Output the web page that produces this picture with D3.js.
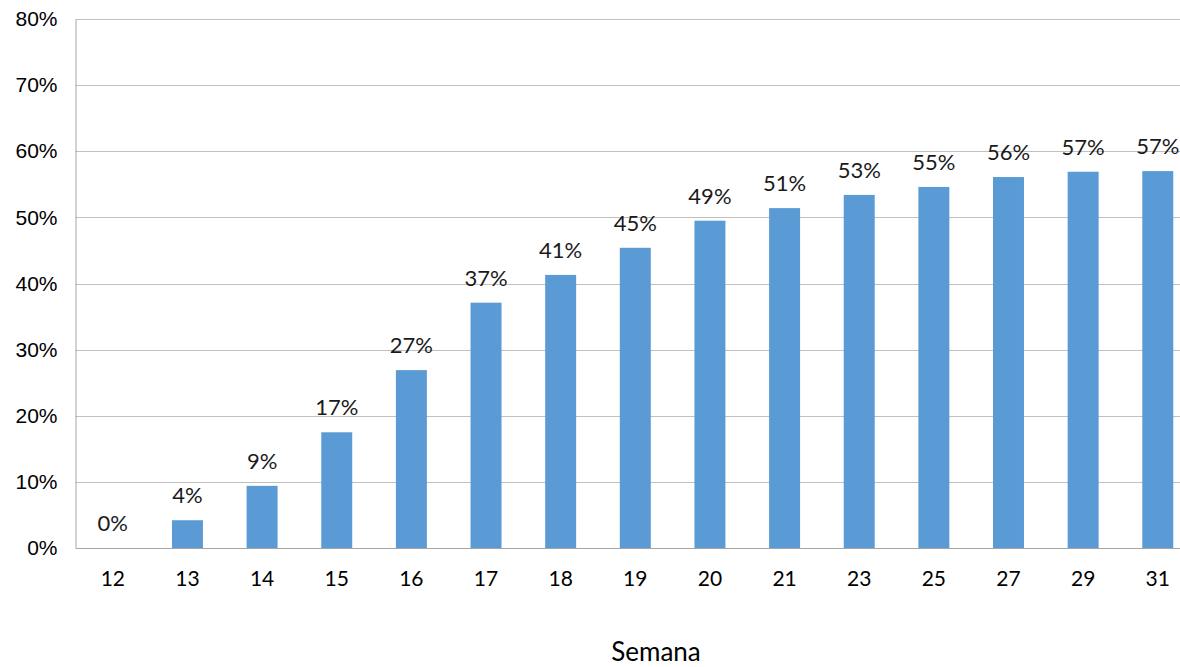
<!DOCTYPE html>
<html>
<head>
<meta charset="utf-8">
<script src="https://cdn.jsdelivr.net/npm/d3@7"></script>
<style>
  body { margin: 0; background: #fff; overflow: hidden; }
</style>
</head>
<body>
<div class="chart"></div>
<script>
// Data
const semanas = ["12", "13", "14", "15", "16", "17", "18", "19", "20", "21", "23", "25", "27", "29", "31"];
const valores = [0, 4.2, 9.4, 17.5, 26.9, 37.1, 41.3, 45.4, 49.5, 51.4, 53.4, 54.6, 56.1, 56.9, 57.0];
const etiquetas = ["0%", "4%", "9%", "17%", "27%", "37%", "41%", "45%", "49%", "51%", "53%", "55%", "56%", "57%", "57%"];
const yTicks = [0, 10, 20, 30, 40, 50, 60, 70, 80];

const width = 1180, height = 667;
const margin = { top: 19, bottom: 119, left: 75.5 };
// the plot area runs past the right edge of the picture
const chartWidth = 1119.6;
const chartHeight = height - margin.top - margin.bottom;

const svg = d3.select(".chart").append("svg")
    .attr("width", width)
    .attr("height", height);

const g = svg.append("g")
    .attr("transform", `translate(${margin.left}, ${margin.top})`);

const xScale = d3.scaleBand()
    .domain(semanas)
    .range([0, chartWidth])
    .paddingInner(0.585)
    .paddingOuter(0.2925);

const yScale = d3.scaleLinear()
    .domain([0, 80])
    .range([chartHeight, 0]);

// gridlines
g.selectAll(".grid")
    .data(yTicks.filter(d => d > 0))
    .enter()
    .append("line")
    .attr("x1", 0)
    .attr("x2", chartWidth)
    .attr("y1", d => Math.round(yScale(d)) + 0.5)
    .attr("y2", d => Math.round(yScale(d)) + 0.5)
    .attr("stroke", "#c0c0c0")
    .attr("stroke-width", 1);

// y axis
const yAxis = d3.axisLeft(yScale).tickValues(yTicks).tickFormat(d => d + "%").tickSize(0).tickPadding(18);
const yg = g.append("g").call(yAxis);
yg.select(".domain").attr("stroke", "#a6a6a6");
yg.selectAll("text")
    .attr("font-family", "'Liberation Sans', Arial, sans-serif")
    .attr("font-size", "21px")
    .attr("fill", "#000");

// bars
g.selectAll(".bar")
    .data(valores)
    .enter()
    .append("rect")
    .attr("class", "bar")
    .attr("x", (d, i) => xScale(semanas[i]))
    .attr("y", d => yScale(d))
    .attr("width", xScale.bandwidth())
    .attr("height", d => chartHeight - yScale(d))
    .attr("fill", "#5b9bd5");

// x axis
const xAxis = d3.axisBottom(xScale).tickSize(0).tickPadding(23);
const xg = g.append("g")
    .attr("transform", `translate(0, ${chartHeight})`)
    .call(xAxis);
xg.select(".domain").attr("stroke", "#a6a6a6");
xg.selectAll("text")
    .attr("font-family", "Lato, 'Noto Sans', sans-serif")
    .attr("font-size", "21px")
    .attr("fill", "#000");

// data labels
g.selectAll(".label")
    .data(valores)
    .enter()
    .append("text")
    .attr("x", (d, i) => xScale(semanas[i]) + xScale.bandwidth() / 2)
    .attr("y", d => yScale(d) - 17)
    .attr("text-anchor", "middle")
    .attr("font-family", "Lato, 'Noto Sans', sans-serif")
    .attr("font-size", "22px")
    .attr("fill", "#1a1a1a")
    .text((d, i) => etiquetas[i]);

// axis title
svg.append("text")
    .attr("x", 656)
    .attr("y", 661)
    .attr("text-anchor", "middle")
    .attr("font-family", "Lato, 'Noto Sans', sans-serif")
    .attr("font-size", "26px")
    .attr("fill", "#000")
    .text("Semana");
</script>
</body>
</html>
